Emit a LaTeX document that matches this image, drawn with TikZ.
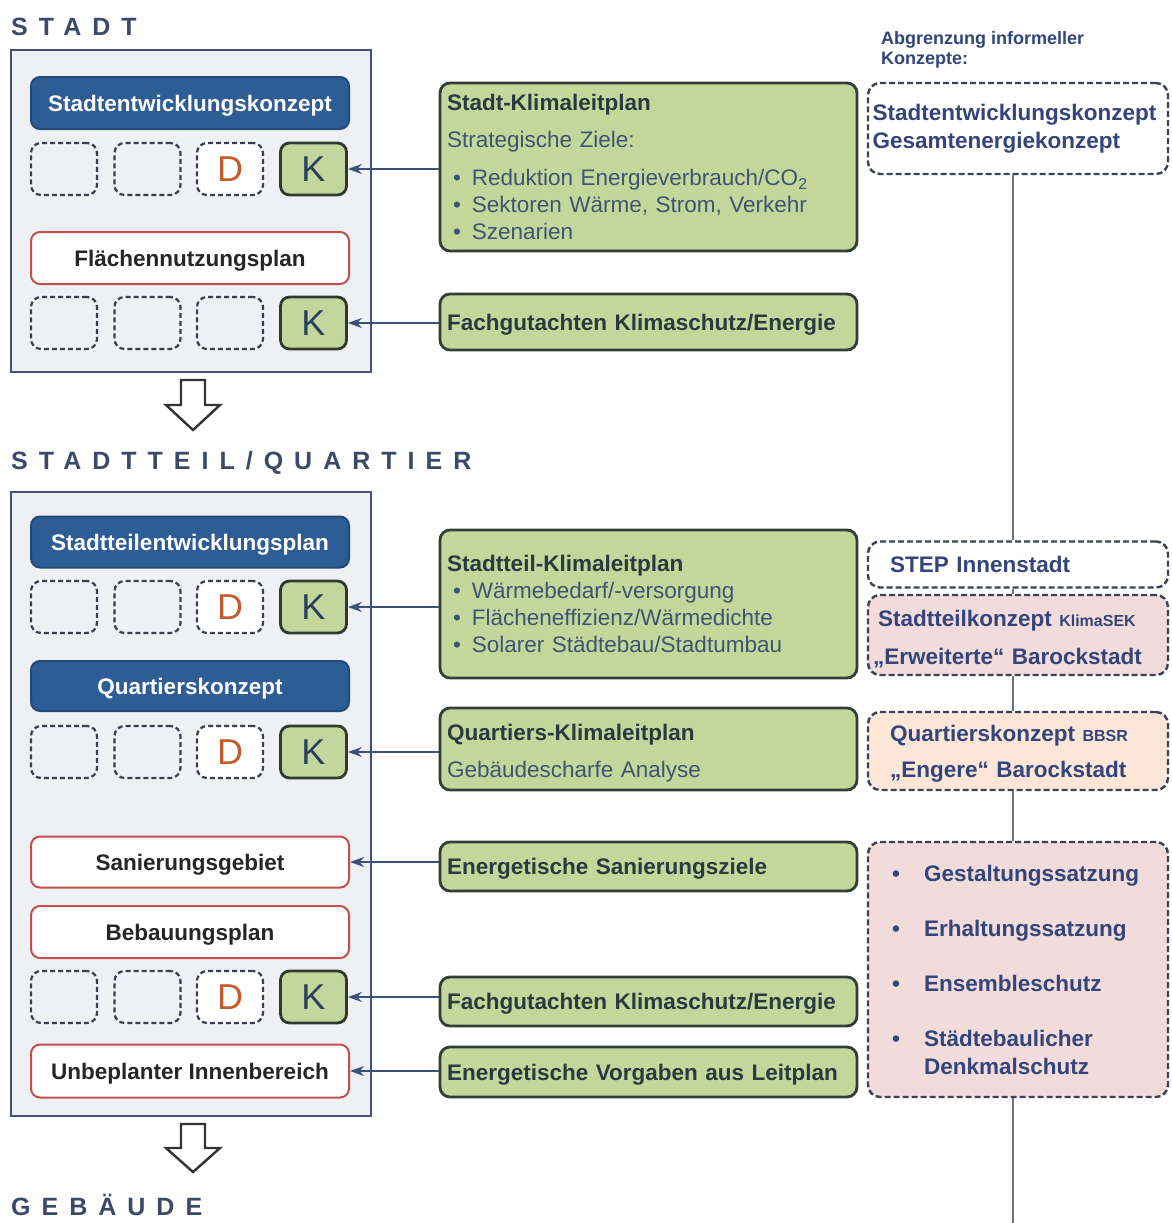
\documentclass[tikz,border=0pt]{standalone}
\usepackage{fontspec}
\setmainfont{Liberation Sans}
\newfontfamily\sperrfont[LetterSpace=44]{Liberation Sans}
\usepackage{tikz}
\usetikzlibrary{arrows.meta}

\definecolor{headcol}{HTML}{3B4A69}
\definecolor{framecol}{HTML}{3F5275}
\definecolor{boxgray}{HTML}{EFF0F3}
\definecolor{planblue}{HTML}{2E5C95}
\definecolor{planblueline}{HTML}{244A7A}
\definecolor{planred}{HTML}{C0504D}
\definecolor{dashcol}{HTML}{3A3F50}
\definecolor{dorange}{HTML}{C55A2A}
\definecolor{kgreen}{HTML}{C3D69B}
\definecolor{kline}{HTML}{2E3A30}
\definecolor{ktext}{HTML}{2A4060}
\definecolor{infogreen}{HTML}{C4D79B}
\definecolor{infoline}{HTML}{333D3A}
\definecolor{titlecol}{HTML}{2A3A40}
\definecolor{bodycol}{HTML}{3E5472}
\definecolor{linecol}{HTML}{3B5177}
\definecolor{informcol}{HTML}{33457A}
\definecolor{informline}{HTML}{3A4256}
\definecolor{pinkfill}{HTML}{F2DCDB}
\definecolor{peachfill}{HTML}{FCE6D8}
\definecolor{greyline}{HTML}{6B7088}

\newcommand{\gross}{\fontsize{22.5}{27}\selectfont}
\newcommand{\punkt}{\hspace*{6pt}\textbullet\hspace{11pt}}
\newcommand{\satzpunkt}{\makebox[33pt][l]{\hspace*{1pt}\textbullet}}
\newcommand{\kltitel}[1]{\textcolor{titlecol}{\bfseries #1}}

\begin{document}
\begin{tikzpicture}[x=1pt,y=-1pt]
	\tikzstyle{heading}=[anchor=west, inner sep=0pt, text=headcol, font=\sperrfont\fontsize{25}{30}\selectfont\bfseries]
	\tikzstyle{ebene}=[rectangle, draw=framecol, line width=2.6pt, fill=boxgray, minimum width=360pt]
	\tikzstyle{planb}=[rectangle, rounded corners=9pt, draw=planblueline, line width=2pt, fill=planblue, text=white, font=\gross\bfseries, minimum width=318pt, text depth=0pt]
	\tikzstyle{planr}=[rectangle, rounded corners=9pt, draw=planred, line width=2pt, fill=white, text=black!85, font=\gross\bfseries, minimum width=318pt, text depth=0pt]
	\tikzstyle{slot}=[rectangle, rounded corners=10pt, draw=dashcol, line width=2.2pt, dash pattern=on 5pt off 3pt, minimum width=66pt, minimum height=52pt, inner sep=0pt]
	\tikzstyle{dslot}=[slot, fill=white, text=dorange, font=\fontsize{36}{36}\selectfont]
	\tikzstyle{kslot}=[rectangle, rounded corners=9pt, draw=kline, line width=2.8pt, fill=kgreen, text=ktext, font=\fontsize{36}{36}\selectfont, minimum width=66pt, minimum height=52pt, inner sep=0pt]
	\tikzstyle{infobox}=[rectangle, rounded corners=10pt, draw=infoline, line width=2.8pt, fill=infogreen, text=bodycol, font=\gross, text width=403pt, inner xsep=7pt, align=left]
	\tikzstyle{infoeins}=[infobox, text depth=0pt]
	\tikzstyle{inform}=[rectangle, rounded corners=12pt, draw=informline, line width=2.4pt, dash pattern=on 6pt off 3pt, fill=white, text=informcol, font=\gross\bfseries, align=left, minimum width=300pt]
	\tikzstyle{pfeil}=[draw=linecol, line width=1.6pt, {Stealth[length=14pt,width=10pt]}-]
	\tikzstyle{linie}=[draw=greyline, line width=1.6pt]
	\tikzstyle{hohlpfeil}=[draw=black!80, line width=2.4pt, fill=white, line join=miter]

	\path[use as bounding box, fill=white] (0,0) rectangle (1171,1223);

	% Ebene Stadt
	\node[heading] (hstadt) at (11,27) {STADT};
	\node[ebene, minimum height=322pt] (stadt) at (191,211) {};
	\node[planb, minimum height=52pt] (stek) at (190,103) {Stadtentwicklungskonzept};
	\node[slot] (a1) at (64,169) {};
	\node[slot] (a2) at (147.5,169) {};
	\node[dslot] (a3) at (230,169) {D};
	\node[kslot] (ak) at (313.5,169) {K};
	\node[planr, minimum height=52pt] (fnp) at (190,258) {Flächennutzungsplan};
	\node[slot] (b1) at (64,323) {};
	\node[slot] (b2) at (147.5,323) {};
	\node[slot] (b3) at (230,323) {};
	\node[kslot] (bk) at (313.5,323) {K};

	\draw[hohlpfeil, shift={(193,380)}] (-12,0) -- (12,0) -- (12,25) -- (27,25) -- (0,50) -- (-27,25) -- (-12,25) -- cycle;

	% Ebene Stadtteil / Quartier
	\node[heading] (hteil) at (11,463) {STADTTEIL/QUARTIER};
	\node[ebene, minimum height=624pt] (teil) at (191,804) {};
	\node[planb, minimum height=51pt] (step) at (190,542) {Stadtteilentwicklungsplan};
	\node[slot] (c1) at (64,607) {};
	\node[slot] (c2) at (147.5,607) {};
	\node[dslot] (c3) at (230,607) {D};
	\node[kslot] (ck) at (313.5,607) {K};
	\node[planb, minimum height=50pt] (qk) at (190,686) {Quartierskonzept};
	\node[slot] (d1) at (64,752) {};
	\node[slot] (d2) at (147.5,752) {};
	\node[dslot] (d3) at (230,752) {D};
	\node[kslot] (dk) at (313.5,752) {K};
	\node[planr, minimum height=51pt] (sg) at (190,862) {Sanierungsgebiet};
	\node[planr, minimum height=52pt] (bp) at (190,932) {Bebauungsplan};
	\node[slot] (e1) at (64,997) {};
	\node[slot] (e2) at (147.5,997) {};
	\node[dslot] (e3) at (230,997) {D};
	\node[kslot] (ek) at (313.5,997) {K};
	\node[planr, minimum height=53pt] (ui) at (190,1071) {Unbeplanter Innenbereich};

	\draw[hohlpfeil, shift={(193,1124)}] (-12,0) -- (12,0) -- (12,24) -- (27,24) -- (0,48) -- (-27,24) -- (-12,24) -- cycle;
	\node[heading] (hgeb) at (11,1205) {GEBÄUDE};

	% Klimaleitplaene
	\node[infobox, minimum height=168pt] (skl) at (648.5,167) {
		\kltitel{Stadt-Klimaleitplan}\\[10pt]
		Strategische Ziele:\\[11pt]
		\punkt Reduktion Energieverbrauch/CO\textsubscript{2}\\
		\punkt Sektoren Wärme, Strom, Verkehr\\
		\punkt Szenarien
	};
	\node[infoeins, minimum height=56pt] (fg1) at (648.5,322) {\kltitel{Fachgutachten Klimaschutz/Energie}};
	\node[infobox, minimum height=148pt] (tkl) at (648.5,604) {
		\kltitel{Stadtteil-Klimaleitplan}\\
		\punkt Wärmebedarf/-versorgung\\
		\punkt Flächeneffizienz/Wärmedichte\\
		\punkt Solarer Städtebau/Stadtumbau
	};
	\node[infobox, minimum height=82pt, text height=24pt] (qkl) at (648.5,749) {
		\kltitel{Quartiers-Klimaleitplan}\\[10pt]
		Gebäudescharfe Analyse
	};
	\node[infoeins, minimum height=49pt] (esz) at (648.5,866.5) {\kltitel{Energetische Sanierungsziele}};
	\node[infoeins, minimum height=49pt] (fg2) at (648.5,1001.5) {\kltitel{Fachgutachten Klimaschutz/Energie}};
	\node[infoeins, minimum height=50pt] (evl) at (648.5,1072) {\kltitel{Energetische Vorgaben aus Leitplan}};

	\draw[pfeil] (ak.east) -- (ak.east -| skl.west);
	\draw[pfeil] (bk.east) -- (bk.east -| fg1.west);
	\draw[pfeil] (ck.east) -- (ck.east -| tkl.west);
	\draw[pfeil] (dk.east) -- (dk.east -| qkl.west);
	\draw[pfeil] (sg.east) -- (sg.east -| esz.west);
	\draw[pfeil] (ek.east) -- (ek.east -| fg2.west);
	\draw[pfeil] (ui.east) -- (ui.east -| evl.west);

	% informelle Konzepte
	\node[anchor=west, text=informcol, font=\fontsize{18}{20}\selectfont\bfseries, align=left, inner sep=0pt] (abgr) at (881,50) {Abgrenzung informeller\\Konzepte:};
	\node[inform, minimum height=91pt, text width=291pt, inner xsep=4.5pt] (inf1) at (1018,128.5) {Stadtentwicklungskonzept\\[1pt]Gesamtenergiekonzept};
	\node[inform, minimum height=46pt, text width=256pt, inner xsep=22pt] (stepi) at (1018,564.5) {STEP Innenstadt};
	\node[inform, fill=pinkfill, minimum height=80pt, text width=290pt, inner xsep=5pt, text height=24pt] (stk) at (1018,635) {\hspace*{5pt}Stadtteilkonzept {\fontsize{16}{20}\selectfont KlimaSEK}\\[11pt]„Erweiterte“ Barockstadt};
	\node[inform, fill=peachfill, minimum height=78pt, text width=256pt, inner xsep=22pt, text height=22.5pt] (qkb) at (1018,751) {Quartierskonzept {\fontsize{16}{20}\selectfont BBSR}\\[9pt]„Engere“ Barockstadt};
	\node[inform, fill=pinkfill, minimum height=255pt, text width=254pt, inner xsep=23pt] (satz) at (1018,969.5) {
		\satzpunkt Gestaltungssatzung\\[28pt]
		\satzpunkt Erhaltungssatzung\\[28pt]
		\satzpunkt Ensembleschutz\\[28pt]
		\satzpunkt Städtebaulicher\\[1pt]
		\hspace*{33pt}Denkmalschutz
	};

	\coordinate (lx) at (1013,0);
	\coordinate (lend) at (1013,1223);
	\draw[linie] (inf1.south -| lx) -- (stepi.north -| lx);
	\draw[linie] (stepi.south -| lx) -- (stk.north -| lx);
	\draw[linie] (stk.south -| lx) -- (qkb.north -| lx);
	\draw[linie] (qkb.south -| lx) -- (satz.north -| lx);
	\draw[linie] (satz.south -| lx) -- (lend);
\end{tikzpicture}
\end{document}
